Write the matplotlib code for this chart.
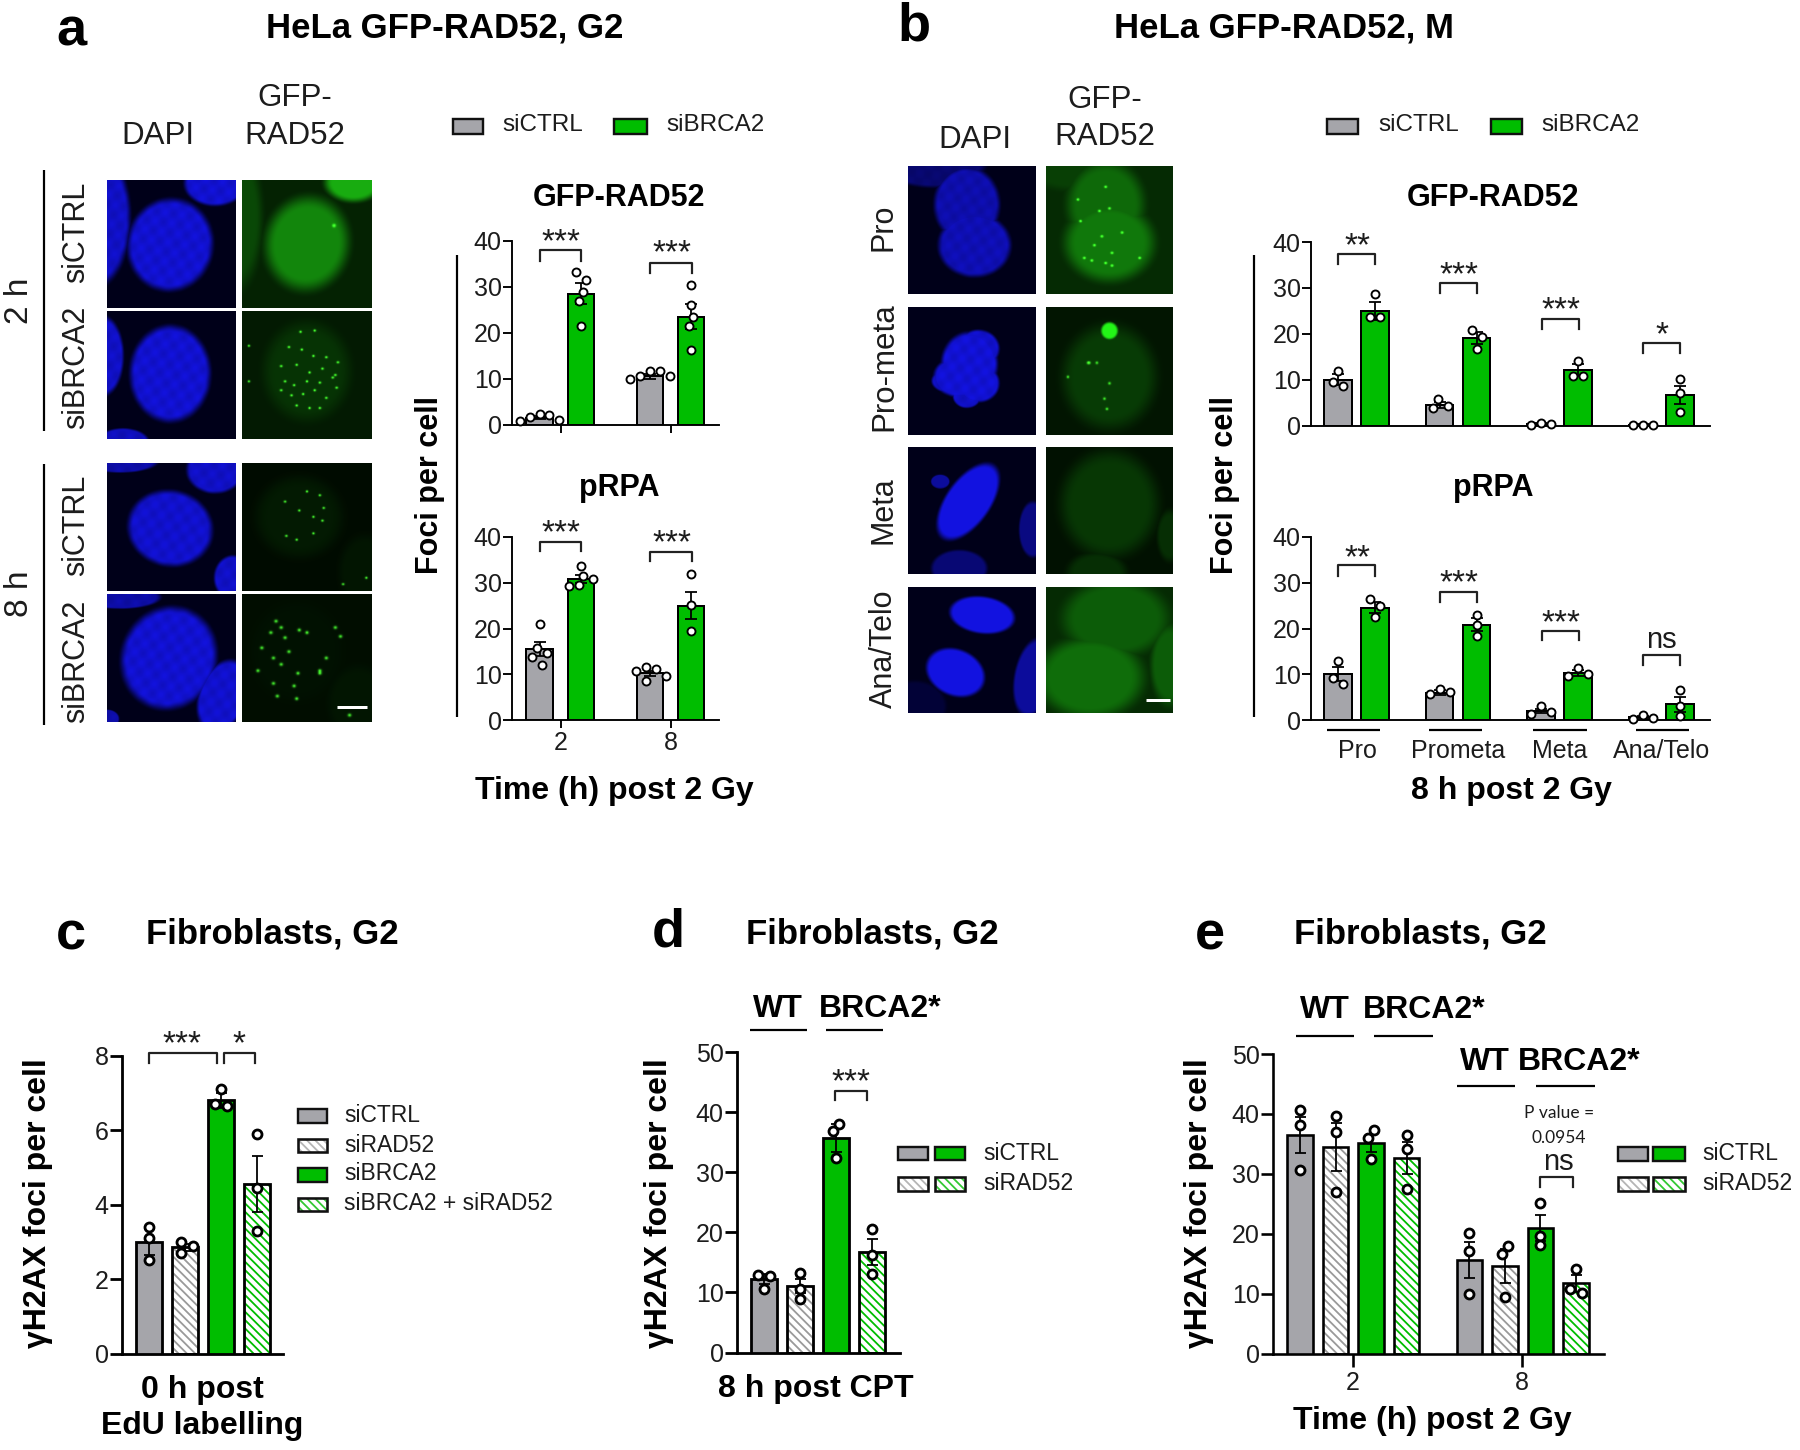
import numpy as np
import matplotlib
matplotlib.use('Agg')
import matplotlib.pyplot as plt
from matplotlib.patches import Rectangle

plt.rcParams['font.family'] = ['Liberation Sans', 'DejaVu Sans']
plt.rcParams['hatch.linewidth'] = 1.3

W, H = 1800, 1450
GREY = '#a5a5aa'
GREEN = '#00bd00'
DARK = '#1c1c1c'

# panel a, hours post irradiation
a_ticks = ['2', '8']
a_gfp_mean = [1.5, 28.5, 10.5, 23.5]
a_gfp_err = [0.3, 2.3, 0.5, 2.7]
a_gfp_pts = [[0.8, 2.1, 2.2, 1.7, 1.0],
             [33.3, 31.6, 28.9, 27.0, 21.4],
             [11.7, 10.5, 10.0, 10.5, 11.7],
             [30.5, 26.0, 23.4, 21.4, 16.3]]
a_rpa_mean = [15.5, 30.8, 10.2, 25.0]
a_rpa_err = [1.6, 0.9, 0.6, 3.0]
a_rpa_pts = [[21.0, 15.8, 14.7, 13.8, 12.1],
             [33.6, 31.4, 30.9, 29.4, 29.2],
             [11.6, 11.1, 10.7, 9.7, 8.6],
             [32.0, 25.2, 19.4]]

# panel b, mitotic stages
b_ticks = ['Pro', 'Prometa', 'Meta', 'Ana/Telo']
b_gfp_mean = [10.0, 25.0, 4.5, 19.0, 0.4, 12.0, 0.2, 6.7]
b_gfp_err = [1.2, 2.0, 0.6, 1.3, 0.1, 1.3, 0.05, 2.0]
b_gfp_pts = [[11.9, 9.4, 8.6], [28.6, 23.6, 23.6],
             [5.7, 4.3, 3.8], [20.8, 19.2, 16.7],
             [0.2, 0.4, 0.5], [14.1, 10.8, 10.8],
             [0.1, 0.1, 0.1], [10.1, 7.1, 3.0]]
b_rpa_mean = [10.0, 24.5, 6.0, 20.8, 2.0, 10.3, 0.7, 3.4]
b_rpa_err = [1.5, 1.2, 0.5, 1.4, 0.5, 0.6, 0.2, 1.7]
b_rpa_pts = [[12.8, 9.1, 7.8], [26.5, 25.0, 22.5],
             [6.7, 6.1, 5.6], [23.0, 20.7, 18.3],
             [3.0, 1.7, 1.3], [11.4, 10.0, 9.7],
             [1.1, 0.5, 0.3], [6.5, 3.0, 0.8]]

# panel c
c_mean = [3.0, 2.85, 6.8, 4.55]
c_err = [0.35, 0.1, 0.2, 0.75]
c_pts = [[3.4, 3.1, 2.5], [3.0, 2.9, 2.7], [7.1, 6.7, 6.65], [5.9, 4.45, 3.3]]
c_legend = ['siCTRL', 'siRAD52', 'siBRCA2', 'siBRCA2 + siRAD52']

# panel d
d_mean = [12.2, 11.1, 35.7, 16.7]
d_err = [0.8, 1.2, 2.4, 2.2]
d_pts = [[12.9, 12.7, 10.6], [13.2, 10.6, 8.9], [38.0, 36.9, 32.3], [20.5, 16.3, 13.0]]

# panel e
e_ticks = ['2', '8']
e_mean = [36.5, 34.5, 35.2, 32.6, 15.7, 14.6, 21.0, 11.7]
e_err = [3.0, 4.0, 1.5, 2.7, 3.0, 2.8, 2.2, 1.4]
e_pts = [[40.7, 38.2, 30.7], [39.6, 37.0, 27.0], [37.3, 35.9, 32.5], [36.5, 34.2, 27.4],
         [20.2, 17.1, 10.0], [18.0, 16.7, 9.5], [25.2, 19.6, 18.1], [14.2, 10.8, 10.1]]

fig = plt.figure(figsize=(W / 100, H / 100), dpi=100, facecolor='white')


def px(v):
    return v * 72 / 100


def ax_px(l, t, r, b):
    return fig.add_axes([l / W, 1 - b / H, (r - l) / W, (b - t) / H])


ov = fig.add_axes([0, 0, 1, 1], zorder=20)
ov.set_xlim(0, W)
ov.set_ylim(H, 0)
ov.axis('off')
ov.patch.set_alpha(0)


def txt(x, y, s, size, bold=False, rot=0, ha='center', color=None, family=None):
    c = color or ('black' if bold else DARK)
    kw = {}
    if family:
        kw['family'] = family
    if rot == 0:
        y = y + 3
    ov.text(x, y, s, fontsize=size, fontweight='bold' if bold else 'normal', rotation=rot,
            ha=ha, va='center', color=c, **kw)


def line(x0, y0, x1, y1, lw=2.2, color='black'):
    ov.plot([x0, x1], [y0, y1], color=color, lw=px(lw), solid_capstyle='butt')


def bracket(x0, x1, top, bot, lw=2.2):
    ov.plot([x0, x0, x1, x1], [bot, top, top, bot], color='#222222', lw=px(lw),
            solid_joinstyle='round')


def swarm(vals, py, d, tight):
    placed = []
    out = [0] * len(vals)
    order = sorted(range(len(vals)), key=lambda i: -vals[i])
    for i in order:
        y = vals[i] * py
        k = 0
        while True:
            cands = [0] if k == 0 else [-k * d / 2, k * d / 2]
            if k % 2 == 0:
                cands = cands[::-1]
            hit = None
            for c in cands:
                if all((c - p[0]) ** 2 + (y - p[1]) ** 2 >= (tight * d) ** 2 for p in placed):
                    hit = c
                    break
            if hit is not None:
                break
            k += 1
        placed.append((hit, y))
        out[i] = hit
    # centre each run of touching points on the bar
    run = [order[0]]
    for i in order[1:] + [None]:
        if i is not None and (vals[run[-1]] - vals[i]) * py < tight * d:
            run.append(i)
            continue
        mid = sum(out[j] for j in run) / len(run)
        for j in run:
            out[j] -= mid
        run = [i]
    return out


def bars(ax, xs, mean, err, pts, w, cols, hatch, lw, ms, mew, cap, ymax, tight=0.95):
    py = ax.get_window_extent().height / ymax
    for i, x in enumerate(xs):
        if hatch[i]:
            ax.bar(x, mean[i], w, facecolor='white', edgecolor=cols[i], hatch='\\\\\\\\', lw=0, zorder=2)
            ax.bar(x, mean[i], w, facecolor='none', edgecolor='black', lw=px(lw), zorder=3)
        else:
            ax.bar(x, mean[i], w, facecolor=cols[i], edgecolor='black', lw=px(lw), zorder=3)
        ax.errorbar(x, mean[i], yerr=err[i], color='black', lw=px(1.8), capsize=px(cap), capthick=px(1.8), zorder=4)
        off = swarm(pts[i], py, ms + mew, tight)
        ax.plot([x + o for o in off], pts[i], 'o', mfc='white', mec='black', ms=px(ms), mew=px(mew),
                zorder=5, clip_on=False)


def style(ax, l, r, ymax, step, lw, tl, size=18):
    ax.set_xlim(l, r)
    ax.set_ylim(0, ymax)
    ax.patch.set_alpha(0)
    for s in ['top', 'right']:
        ax.spines[s].set_visible(False)
    for s in ['left', 'bottom']:
        ax.spines[s].set_linewidth(px(lw))
    ax.set_yticks(np.arange(0, ymax + step, step))
    ax.tick_params(axis='y', length=px(tl), width=px(lw), labelsize=size, labelcolor=DARK, pad=1)
    ax.set_xticks([])


def swatch(x0, y0, x1, y1, col, hatch=False):
    if hatch:
        ov.add_patch(Rectangle((x0, y0), x1 - x0, y1 - y0, facecolor='white', edgecolor=col, hatch='\\\\\\\\', lw=0))
        ov.add_patch(Rectangle((x0, y0), x1 - x0, y1 - y0, facecolor='none', edgecolor='#111111', lw=px(2.6)))
    else:
        ov.add_patch(Rectangle((x0, y0), x1 - x0, y1 - y0, facecolor=col, edgecolor='#111111', lw=px(2.4)))


def cell(l, t, r, b, blobs, foci, kind, bg=0.0, mottled=False, spot=1.1):
    n = 128
    yy, xx = np.mgrid[0:n, 0:n] / (n - 1)
    img = np.full((n, n), float(bg))
    edge = 0.2 if kind == 'b' else 0.38
    for blob in blobs:
        cx, cy, rx, ry, ang, amp = blob
        c, s = np.cos(np.radians(ang)), np.sin(np.radians(ang))
        u = (xx - cx) * c + (yy - cy) * s
        v = -(xx - cx) * s + (yy - cy) * c
        d = np.sqrt((u / rx) ** 2 + (v / ry) ** 2)
        soft = np.clip((1.0 - d) / edge, 0, 1)
        img = np.maximum(img, bg + (amp - bg) * soft * soft * (3 - 2 * soft))
    if mottled:
        img = img * (1 - 0.07 * (np.sin(47 * xx + 9 * yy) * np.sin(41 * yy - 6 * xx) + 1))
    spots = np.zeros((n, n))
    for fx, fy in foci:
        spots = spots + 0.85 * np.exp(-(((xx - fx) ** 2 + (yy - fy) ** 2) * (n ** 2)) / (2 * spot ** 2))
    rgb = np.zeros((n, n, 3))
    if kind == 'b':
        img = np.clip(img, 0, 1)
        rgb[..., 2] = 0.1 + 0.85 * img
        rgb[..., 0] = 0.08 * img
        rgb[..., 1] = 0.08 * img
    else:
        g = np.clip(0.02 + 0.82 * img + spots, 0, 1)
        rgb[..., 1] = g
        rgb[..., 0] = 0.3 * np.clip(spots, 0, 1) + 0.12 * img
        rgb[..., 2] = 0.2 * np.clip(spots, 0, 1) + 0.08 * img
    ax = ax_px(l, t, r, b)
    ax.imshow(np.clip(rgb, 0, 1), extent=(0, 1, 1, 0), aspect='auto', interpolation='bilinear')
    ax.axis('off')


# microscope panels of a
ax0, ax1, gx0, gx1 = 107, 235, 242, 371
rows_a = [(180, 308), (311, 439), (463, 591), (594, 722)]
cell(ax0, rows_a[0][0], ax1, rows_a[0][1],
     [(0.49, 0.51, 0.36, 0.39, 10, 0.9), (-0.1, 0.3, 0.3, 0.58, 0, 0.85), (0.84, 0.03, 0.26, 0.19, 0, 0.9)],
     [], 'b', mottled=True)
cell(gx0, rows_a[0][0], gx1, rows_a[0][1],
     [(0.5, 0.5, 0.38, 0.43, 10, 0.62), (-0.05, 0.3, 0.24, 0.65, 0, 0.32), (0.86, 0.02, 0.26, 0.18, 0, 0.8)],
     [(0.71, 0.36)], 'g', bg=0.14)
cell(ax0, rows_a[1][0], ax1, rows_a[1][1],
     [(0.49, 0.49, 0.34, 0.41, 0, 0.9), (-0.04, 0.35, 0.18, 0.34, 0, 0.85), (0.12, 1.03, 0.22, 0.12, 0, 0.8)],
     [], 'b', mottled=True)
foci_a2 = [(0.45, 0.16), (0.56, 0.15), (0.36, 0.28), (0.46, 0.3), (0.55, 0.35), (0.65, 0.36), (0.74, 0.4),
           (0.3, 0.43), (0.42, 0.42), (0.52, 0.48), (0.62, 0.45), (0.72, 0.5), (0.33, 0.55), (0.4, 0.58),
           (0.5, 0.55), (0.6, 0.56), (0.7, 0.52), (0.3, 0.62), (0.38, 0.66), (0.47, 0.65), (0.56, 0.62),
           (0.65, 0.68), (0.73, 0.6), (0.42, 0.74), (0.52, 0.76), (0.6, 0.76), (0.05, 0.55), (0.05, 0.27)]
cell(gx0, rows_a[1][0], gx1, rows_a[1][1], [(0.5, 0.47, 0.4, 0.46, 0, 0.22)], foci_a2, 'g', bg=0.1, spot=0.9)
cell(ax0, rows_a[2][0], ax1, rows_a[2][1],
     [(0.49, 0.51, 0.36, 0.32, 15, 0.88), (0.84, 0.05, 0.24, 0.2, 0, 0.85), (0.98, 0.9, 0.16, 0.19, 0, 0.85),
      (0.1, -0.02, 0.32, 0.1, 0, 0.7)], [], 'b', mottled=True)
foci_a3 = [(0.33, 0.3), (0.5, 0.22), (0.6, 0.25), (0.63, 0.35), (0.44, 0.37), (0.55, 0.42), (0.62, 0.45),
           (0.34, 0.57), (0.42, 0.6), (0.55, 0.55), (0.78, 0.95), (0.96, 0.9)]
cell(gx0, rows_a[2][0], gx1, rows_a[2][1], [(0.44, 0.42, 0.4, 0.38, 0, 0.1), (0.95, 0.85, 0.24, 0.34, 0, 0.08)],
     foci_a3, 'g', bg=0.03, spot=0.9)
cell(ax0, rows_a[3][0], ax1, rows_a[3][1],
     [(0.48, 0.5, 0.4, 0.44, 20, 0.9), (0.9, 0.8, 0.2, 0.32, 20, 0.88), (0.1, 0.02, 0.34, 0.1, 0, 0.7),
      (0.0, 0.98, 0.1, 0.08, 0, 0.7)], [], 'b', mottled=True)
foci_a4 = [(0.26, 0.21), (0.3, 0.26), (0.44, 0.28), (0.72, 0.26), (0.76, 0.33), (0.22, 0.3), (0.33, 0.34),
           (0.5, 0.3), (0.36, 0.45), (0.15, 0.42), (0.24, 0.5), (0.3, 0.55), (0.43, 0.62), (0.6, 0.6),
           (0.65, 0.5), (0.12, 0.6), (0.24, 0.7), (0.4, 0.72), (0.27, 0.8), (0.42, 0.82), (0.6, 0.62), (0.83, 0.95)]
cell(gx0, rows_a[3][0], gx1, rows_a[3][1], [(0.42, 0.45, 0.42, 0.46, 0, 0.06), (0.9, 0.85, 0.28, 0.34, 0, 0.08)],
     foci_a4, 'g', bg=0.04, spot=1.2)

# microscope panels of b
bx0, bx1, hx0, hx1 = 908, 1036, 1046, 1173
rows_b = [(166, 294), (307, 435), (447, 574), (587, 713)]
pro_blobs = [(0.46, 0.3, 0.28, 0.32, 0, 0.72), (0.52, 0.62, 0.31, 0.27, 0, 0.76), (0.2, -0.02, 0.44, 0.2, 0, 0.42)]
cell(bx0, rows_b[0][0], bx1, rows_b[0][1], pro_blobs, [], 'b', mottled=True)
foci_pro = [(0.47, 0.16), (0.25, 0.26), (0.42, 0.35), (0.5, 0.33), (0.27, 0.43), (0.6, 0.52), (0.44, 0.55),
            (0.38, 0.62), (0.52, 0.68), (0.3, 0.72), (0.52, 0.78), (0.47, 0.76), (0.36, 0.74), (0.74, 0.72)]
cell(hx0, rows_b[0][0], hx1, rows_b[0][1],
     [(0.47, 0.3, 0.36, 0.4, 0, 0.48), (0.5, 0.6, 0.42, 0.36, 0, 0.55), (0.2, 0.0, 0.44, 0.22, 0, 0.28)],
     foci_pro, 'g', bg=0.18, spot=0.9)
prom = [(0.48, 0.45, 0.24, 0.27, 0, 0.92), (0.4, 0.55, 0.22, 0.17, 0, 0.92), (0.55, 0.6, 0.18, 0.16, 0, 0.92),
        (0.55, 0.33, 0.18, 0.16, 0, 0.88), (0.32, 0.58, 0.15, 0.1, 0, 0.82), (0.46, 0.7, 0.12, 0.1, 0, 0.85)]
cell(bx0, rows_b[1][0], bx1, rows_b[1][1], prom, [], 'b', mottled=True)
foci_pm = [(0.34, 0.44), (0.33, 0.44), (0.17, 0.55), (0.4, 0.44), (0.46, 0.72), (0.48, 0.8), (0.5, 0.6)]
cell(hx0, rows_b[1][0], hx1, rows_b[1][1],
     [(0.5, 0.55, 0.44, 0.48, 0, 0.26), (0.5, 0.19, 0.08, 0.08, 0, 1.15)], foci_pm, 'g', bg=0.08, spot=0.9)
cell(bx0, rows_b[2][0], bx1, rows_b[2][1],
     [(0.47, 0.43, 0.19, 0.38, 35, 0.92), (0.4, 0.96, 0.24, 0.16, 0, 0.42), (0.98, 0.65, 0.12, 0.24, 0, 0.48),
      (0.25, 0.27, 0.08, 0.06, 0, 0.6)], [], 'b')
cell(hx0, rows_b[2][0], hx1, rows_b[2][1],
     [(0.5, 0.45, 0.46, 0.5, 0, 0.24), (0.4, 1.0, 0.28, 0.2, 0, 0.2), (0.98, 0.7, 0.12, 0.24, 0, 0.2)],
     [], 'g', bg=0.06)
cell(bx0, rows_b[3][0], bx1, rows_b[3][1],
     [(0.58, 0.22, 0.28, 0.16, 8, 0.92), (0.37, 0.68, 0.26, 0.2, 25, 0.92), (0.98, 0.72, 0.16, 0.34, 10, 0.6),
      (0.05, 0.95, 0.27, 0.22, 0, 0.14)], [], 'b')
cell(hx0, rows_b[3][0], hx1, rows_b[3][1],
     [(0.55, 0.25, 0.5, 0.36, 0, 0.42), (0.35, 0.72, 0.5, 0.38, 0, 0.5), (0.98, 0.62, 0.18, 0.38, 0, 0.42)],
     [], 'g', bg=0.18)

# panel a charts
a_xs = [539.5, 581, 650, 691]
a_cols = [GREY, GREEN, GREY, GREEN]
no_h = [False] * 4
axa1 = ax_px(512, 241, 719, 424.5)
style(axa1, 512, 719, 40, 10, 1.9, 9)
bars(axa1, a_xs, a_gfp_mean, a_gfp_err, a_gfp_pts, 26.5, a_cols, no_h, 2.0, 8, 1.9, 6, 40)
axa1.set_xticks([560.5, 670.5])
axa1.tick_params(axis='x', length=px(8), width=px(1.9), labelbottom=False)
axa2 = ax_px(512, 537, 719, 720)
style(axa2, 512, 719, 40, 10, 1.9, 9)
bars(axa2, a_xs, a_rpa_mean, a_rpa_err, a_rpa_pts, 26.5, a_cols, no_h, 2.0, 8, 1.9, 6, 40)
axa2.set_xticks([560.5, 670.5], a_ticks)
axa2.tick_params(axis='x', length=px(8), width=px(1.9), labelsize=18, labelcolor=DARK, pad=2)

# panel b charts
b_xs = []
for g in range(4):
    b_xs += [1338 + g * 101.6, 1375 + g * 101.6]
b_cols = [GREY, GREEN] * 4
axb1 = ax_px(1311, 242, 1710, 425.5)
style(axb1, 1311, 1710, 40, 10, 1.9, 9)
bars(axb1, b_xs, b_gfp_mean, b_gfp_err, b_gfp_pts, 27.5, b_cols, [False] * 8, 2.0, 8, 1.9, 6, 40)
axb2 = ax_px(1311, 537, 1710, 720)
style(axb2, 1311, 1710, 40, 10, 1.9, 9)
bars(axb2, b_xs, b_rpa_mean, b_rpa_err, b_rpa_pts, 27.5, b_cols, [False] * 8, 2.0, 8, 1.9, 6, 40)

# panel c chart
c_cols = [GREY, '#9a9a9a', GREEN, GREEN]
c_h = [False, True, False, True]
axc = ax_px(122, 1055.6, 283, 1353.6)
style(axc, 122, 283, 8, 2, 2.8, 12)
bars(axc, [149 + i * 35.9 for i in range(4)], c_mean, c_err, c_pts, 25.6, c_cols, c_h, 2.8, 9, 2.8, 5.5, 8, 0.72)

# panel d chart
axd = ax_px(737, 1052, 900, 1352.5)
style(axd, 737, 900, 50, 10, 2.8, 12)
bars(axd, [764 + i * 35.9 for i in range(4)], d_mean, d_err, d_pts, 25.7, c_cols, c_h, 2.8, 9, 2.8, 5.5, 50, 0.72)

# panel e chart
e_xs = [1300 + i * 35.5 for i in range(4)] + [1469.4 + i * 35.5 for i in range(4)]
axe = ax_px(1273, 1054, 1604, 1353.6)
style(axe, 1273, 1604, 50, 10, 2.6, 12)
bars(axe, e_xs, e_mean, e_err, e_pts, 25.3, c_cols * 2, c_h * 2, 2.6, 9, 2.8, 5.5, 50, 0.72)
axe.set_xticks([1352.6, 1522], e_ticks)
axe.tick_params(axis='x', length=px(13), width=px(2.6), labelsize=18, labelcolor=DARK, pad=3)

# panel letters and titles
txt(71, 28, 'a', 39, True)
txt(914, 23, 'b', 39, True)
txt(71, 932, 'c', 39, True)
txt(668, 929, 'd', 39, True)
txt(1210, 932, 'e', 39, True)
txt(445, 25, 'HeLa GFP-RAD52, G2', 25, True)
txt(1284, 25, 'HeLa GFP-RAD52, M', 25, True)
txt(272, 931, 'Fibroblasts, G2', 25, True)
txt(872, 931, 'Fibroblasts, G2', 25, True)
txt(1420, 931, 'Fibroblasts, G2', 25, True)

# column and row labels
txt(158, 133, 'DAPI', 22.5)
txt(295, 95, 'GFP-', 22.5)
txt(295, 133, 'RAD52', 22.5)
txt(975, 137, 'DAPI', 22.5)
txt(1105, 97, 'GFP-', 22.5)
txt(1105, 134, 'RAD52', 22.5)
txt(19, 301, '2 h', 24, rot=90)
txt(19, 594, '8 h', 24, rot=90)
txt(76, 232, 'siCTRL', 22, rot=90)
txt(76, 367, 'siBRCA2', 22, rot=90)
txt(76, 525, 'siCTRL', 22, rot=90)
txt(76, 661, 'siBRCA2', 22, rot=90)
line(44, 170, 44, 431)
line(44, 464, 44, 725)
txt(884, 227, 'Pro', 22, rot=90)
txt(884, 367, 'Pro-meta', 22.5, rot=90)
txt(884, 510, 'Meta', 22, rot=90)
txt(884, 649, 'Ana/Telo', 22, rot=90)
line(337, 707, 367, 707, lw=3, color='white')
line(1146, 700, 1170, 700, lw=3, color='white')

# legends of a and b
swatch(453, 119, 483, 134, GREY)
swatch(614, 119, 647, 134, GREEN)
txt(502, 122, 'siCTRL', 17.5, ha='left')
txt(666, 122, 'siBRCA2', 17.5, ha='left')
swatch(1327, 119, 1358, 134, GREY)
swatch(1491, 119, 1522, 134, GREEN)
txt(1378, 122, 'siCTRL', 17.5, ha='left')
txt(1541, 122, 'siBRCA2', 17.5, ha='left')

# chart labels of a and b
txt(619, 195, 'GFP-RAD52', 22, True)
txt(619, 485, 'pRPA', 22, True)
txt(1493, 195, 'GFP-RAD52', 22, True)
txt(1493, 485, 'pRPA', 22, True)
txt(430, 485, 'Foci per cell', 22, True, rot=90)
txt(1225, 485, 'Foci per cell', 22, True, rot=90)
line(457, 255, 457, 717)
line(1254, 255, 1254, 717)
txt(614, 788, 'Time (h) post 2 Gy', 23, True)
txt(1511, 788, '8 h post 2 Gy', 23, True)
for x0, x1, xt, lab in zip([1327, 1429, 1533, 1636], [1380, 1482, 1587, 1689],
                           [1357, 1458, 1560, 1662], b_ticks):
    line(x0, 730, x1, 730)
    txt(xt, 748, lab, 18)

# significance marks
stars = '***'
for sx, sy, x0, x1, top, bot, s in [
    (561, 240, 540, 581, 250, 261, stars), (672, 251, 650, 692, 263, 273, stars),
    (561, 531, 540, 581, 542, 551, stars), (672, 541, 650, 692, 552, 561, stars),
    (1357, 244, 1338, 1375, 253.5, 264, '**'), (1459, 273, 1440, 1477, 283, 293, stars),
    (1561, 308, 1542, 1579, 319, 329, stars), (1662, 333, 1643, 1680, 343, 353, '*'),
    (1357, 556, 1338, 1375, 565, 575.5, '**'), (1459, 581, 1440, 1477, 592, 602, stars),
    (1561, 621, 1542, 1579, 630.6, 640, stars),
    (182, 1042, 148.5, 217, 1052.7, 1063, stars), (239, 1042, 223.5, 255, 1052.7, 1063, '*'),
    (851, 1080, 835, 867, 1091, 1100, stars),
]:
    txt(sx, sy, s, 24)
    bracket(x0, x1, top, bot)
txt(1661, 637, 'ns', 21)
bracket(1643, 1680, 654.6, 665)
txt(1558, 1159, 'ns', 21)
bracket(1539.6, 1573, 1177, 1187)
txt(1559, 1110, 'P value =', 12.5, family='Lato')
txt(1559, 1135, '0.0954', 12.5, family='Lato')

# legend c
for y0, y1, y, lab, col, h in zip([1109, 1139, 1168, 1198], [1123, 1152, 1182, 1211],
                                  [1112.5, 1142, 1171, 1200.5], c_legend,
                                  [GREY, '#b5b5b5', GREEN, '#33c933'], c_h):
    swatch(298, y0, 327, y1, col, h)
    txt(344, y, lab, 16.5, ha='left')

# legends d and e
swatch(898, 1146.5, 928, 1160, GREY)
swatch(935, 1146.5, 965, 1160, GREEN)
swatch(898, 1177, 928, 1191, '#b5b5b5', True)
swatch(935, 1177, 965, 1191, '#33c933', True)
txt(983, 1150, 'siCTRL', 16.5, ha='left')
txt(983, 1180, 'siRAD52', 16.5, ha='left')
swatch(1618, 1146.5, 1648, 1160.6, GREY)
swatch(1653, 1146.5, 1684.5, 1160.6, GREEN)
swatch(1618, 1177, 1648, 1191, '#b5b5b5', True)
swatch(1653, 1177, 1684.5, 1191, '#33c933', True)
txt(1702, 1150, 'siCTRL', 16.5, ha='left')
txt(1702, 1180, 'siRAD52', 16.5, ha='left')

# labels c d e
txt(38, 1203.5, 'γH2AX foci per cell', 23, True, rot=90)
txt(659, 1203.5, 'γH2AX foci per cell', 23, True, rot=90)
txt(1199, 1203.5, 'γH2AX foci per cell', 23, True, rot=90)
txt(202, 1387, '0 h post', 23, True)
txt(202, 1423, 'EdU labelling', 23, True)
txt(816, 1386, '8 h post CPT', 23, True)
txt(1432, 1418, 'Time (h) post 2 Gy', 23, True)
txt(778, 1006, 'WT', 23, True)
txt(880, 1006, 'BRCA2*', 23, True)
line(750, 1030, 807, 1030)
line(826, 1030, 883, 1030)
txt(1324.5, 1007, 'WT', 23, True)
txt(1424, 1007, 'BRCA2*', 23, True)
line(1295.5, 1035.6, 1354, 1035.6)
line(1374, 1035.6, 1433, 1035.6)
txt(1484.5, 1059, 'WT', 23, True)
txt(1579, 1059, 'BRCA2*', 23, True)
line(1457, 1085.5, 1515, 1085.5)
line(1536, 1085.5, 1595, 1085.5)

ov.set_xlim(0, W)
ov.set_ylim(H, 0)
fig.savefig('out.png', dpi=100)
